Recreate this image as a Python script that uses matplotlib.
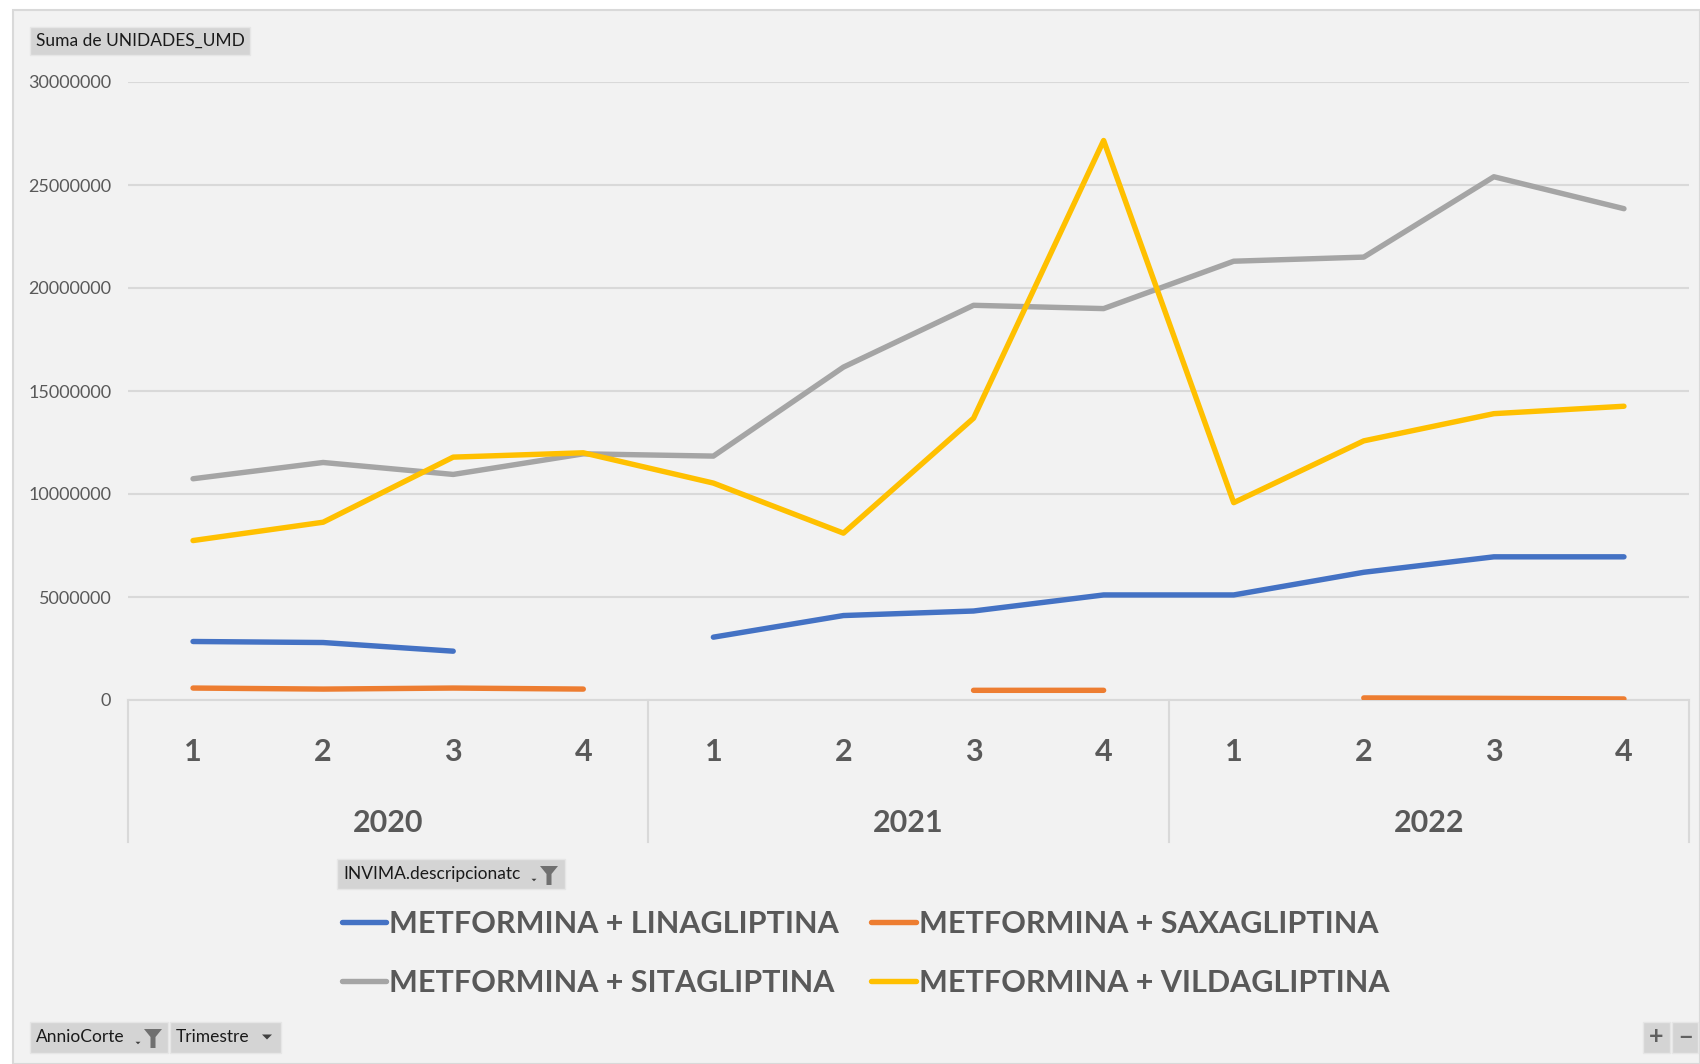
import numpy as np
import matplotlib
matplotlib.use('Agg')
import matplotlib.pyplot as plt
from matplotlib.patches import Rectangle, Polygon
from matplotlib.lines import Line2D
import matplotlib.transforms as mtransforms

plt.rcParams['font.family'] = ['Lato', 'DejaVu Sans']

# data
years = ['2020', '2021', '2022']
quarters = ['1', '2', '3', '4']
nan = np.nan
linagliptina = [2840000, 2790000, 2370000, nan,
                3050000, 4100000, 4320000, 5100000,
                5100000, 6200000, 6950000, 6950000]
saxagliptina = [580000, 530000, 580000, 530000,
                nan, nan, 470000, 470000,
                nan, 100000, 80000, 50000]
sitagliptina = [10740000, 11530000, 10950000, 11950000,
                11840000, 16160000, 19160000, 19000000,
                21300000, 21500000, 25400000, 23850000]
vildagliptina = [7740000, 8630000, 11790000, 12000000,
                 10530000, 8100000, 13680000, 27160000,
                 9580000, 12580000, 13900000, 14260000]
series_names = ['METFORMINA + LINAGLIPTINA', 'METFORMINA + SAXAGLIPTINA',
                'METFORMINA + SITAGLIPTINA', 'METFORMINA + VILDAGLIPTINA']
colors = ['#4472C4', '#ED7D31', '#A5A5A5', '#FFC000']
yticks = [0, 5000000, 10000000, 15000000, 20000000, 25000000, 30000000]

W, H = 1700, 1064
TXT = '#595959'

def fx(px):
    return px / W

def fy(py):
    return 1 - py / H

fig = plt.figure(figsize=(17, 10.64), dpi=100, facecolor='white')

# chart area background
fig.add_artist(Rectangle((fx(13), 0), 1 - fx(13), fy(10), transform=fig.transFigure,
                         facecolor='#F2F2F2', edgecolor='#D9D9D9', linewidth=1.5, zorder=0))

ax = fig.add_axes([fx(128), fy(700), fx(1689) - fx(128), fy(82) - fy(700)])
ax.set_facecolor('none')
ax.set_xlim(-0.5, 11.5)
ax.set_ylim(0, 30000000)

x = np.arange(12)
handles = []
for vals, c, name in zip([linagliptina, saxagliptina, sitagliptina, vildagliptina], colors, series_names):
    ln, = ax.plot(x, vals, color=c, linewidth=3.9, solid_capstyle='round',
                  solid_joinstyle='round', label=name, zorder=3)
    handles.append(ln)

ax.set_yticks(yticks)
ax.set_yticklabels([str(v) for v in yticks], fontsize=13, color=TXT)
ax.tick_params(axis='y', length=0, pad=12)
ax.set_xticks([])
ax.grid(axis='y', color='#D9D9D9', linewidth=1.5, zorder=1)
for s in ['top', 'right', 'left']:
    ax.spines[s].set_visible(False)
ax.spines['bottom'].set_color('#D9D9D9')
ax.spines['bottom'].set_linewidth(1.5)

# multi-level category axis
trans = mtransforms.blended_transform_factory(ax.transData, fig.transFigure)
for b in [-0.5, 3.5, 7.5, 11.5]:
    ax.add_line(Line2D([b, b], [fy(700), fy(842)], transform=trans, color='#D9D9D9',
                       linewidth=1.5, clip_on=False))
for i in range(12):
    ax.text(i, fy(752), quarters[i % 4], transform=trans, ha='center', va='center',
            fontsize=22, fontweight='bold', color=TXT)
for j, yr in enumerate(years):
    ax.text(4 * j + 1.5, fy(823), yr, transform=trans, ha='center', va='center',
            fontsize=22, fontweight='bold', color=TXT)

# legend, filled row by row like the original
order = [0, 2, 1, 3]
fig.legend([handles[k] for k in order], [series_names[k] for k in order],
           loc='upper left', bbox_to_anchor=(fx(342), fy(910)), ncol=2, frameon=False,
           handlelength=1.45, handletextpad=0.1, columnspacing=1.05,
           labelspacing=1.02, borderaxespad=0, borderpad=0,
           prop={'weight': 'bold', 'size': 22}, labelcolor=TXT)


def button(x0, y0, x1, y1, label, fs=12.5):
    fig.add_artist(Rectangle((fx(x0), fy(y1)), fx(x1) - fx(x0), fy(y0) - fy(y1),
                             transform=fig.transFigure, facecolor='#D4D4D4',
                             edgecolor='#E6E6E6', linewidth=1))
    if label:
        fig.text(fx(x0 + 6), fy((y0 + y1) / 2), label, ha='left', va='center',
                 fontsize=fs, color='#1A1A1A')


def funnel(x0, y0, x1, y1):
    xm = (x0 + x1) / 2
    pts = [(x0, y0), (x1, y0), (xm + 2.5, y0 + 8), (xm + 2.5, y1), (xm - 2.5, y1), (xm - 2.5, y0 + 8)]
    fig.add_artist(Polygon([(fx(a), fy(b)) for a, b in pts], closed=True,
                           transform=fig.transFigure, facecolor='#707070', edgecolor='none'))


def arrow(xc, yc, w):
    pts = [(xc - w, yc - w / 2), (xc + w, yc - w / 2), (xc, yc + w / 2)]
    fig.add_artist(Polygon([(fx(a), fy(b)) for a, b in pts], closed=True,
                           transform=fig.transFigure, facecolor='#404040', edgecolor='none'))


button(30, 27, 250, 55, 'Suma de UNIDADES_UMD')
button(337, 859, 565, 889, 'INVIMA.descripcionatc')
funnel(540, 866, 558, 885)
arrow(534, 880, 2.5)
button(30, 1022, 168, 1053, 'AnnioCorte')
funnel(144, 1029, 162, 1048)
arrow(138, 1043, 2.5)
button(170, 1022, 281, 1053, 'Trimestre')
arrow(267, 1037, 5)
button(1643, 1022, 1670, 1053, '')
button(1672, 1022, 1698, 1053, '')
fig.text(fx(1656.5), fy(1037), '+', ha='center', va='center', fontsize=18,
         fontweight='bold', color='#606060')
fig.text(fx(1685), fy(1037), '\u2212', ha='center', va='center', fontsize=18,
         fontweight='bold', color='#606060')

fig.savefig('out.png', dpi=100, facecolor='white')
